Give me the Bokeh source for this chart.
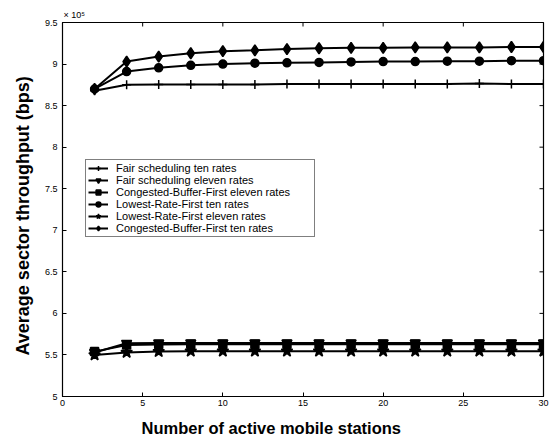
import math
from bokeh.plotting import figure
from bokeh.models import FixedTicker, Legend, LegendItem, Title
from bokeh.embed import file_html
from bokeh.resources import INLINE

# ---- data (throughput in units of 10^5 bps) ----
stations = [2, 4, 6, 8, 10, 12, 14, 16, 18, 20, 22, 24, 26, 28, 30]

fair_ten = [8.68, 8.75, 8.755, 8.755, 8.755, 8.755, 8.76, 8.76, 8.76, 8.76, 8.76, 8.76, 8.765, 8.76, 8.76]
fair_eleven = [5.53, 5.64, 5.645, 5.645, 5.645, 5.645, 5.645, 5.645, 5.645, 5.645, 5.645, 5.645, 5.645, 5.645, 5.645]
cbf_eleven = [5.54, 5.62, 5.625, 5.63, 5.63, 5.63, 5.63, 5.63, 5.63, 5.63, 5.63, 5.63, 5.63, 5.63, 5.63]
lrf_ten = [8.70, 8.91, 8.955, 8.985, 9.0, 9.01, 9.015, 9.02, 9.025, 9.03, 9.03, 9.035, 9.035, 9.04, 9.04]
lrf_eleven = [5.50, 5.53, 5.54, 5.545, 5.545, 5.545, 5.545, 5.545, 5.545, 5.545, 5.545, 5.545, 5.545, 5.545, 5.545]
cbf_ten = [8.70, 9.03, 9.09, 9.13, 9.155, 9.165, 9.18, 9.19, 9.195, 9.195, 9.20, 9.20, 9.20, 9.205, 9.205]

series_names = [
    "Fair scheduling ten rates",
    "Fair scheduling eleven rates",
    "Congested-Buffer-First eleven rates",
    "Lowest-Rate-First ten rates",
    "Lowest-Rate-First eleven rates",
    "Congested-Buffer-First ten rates",
]
series_values = [fair_ten, fair_eleven, cbf_eleven, lrf_ten, lrf_eleven, cbf_ten]
markers = ["cross", "inverted_triangle", "square", "circle", "star", "diamond"]
marker_sizes = [9, 10, 8, 8, 12, 11]

x_range = (0, 30)
y_range = (5, 9.5)
x_ticks = [0, 5, 10, 15, 20, 25, 30]
y_ticks = [5, 5.5, 6, 6.5, 7, 7.5, 8, 8.5, 9, 9.5]
y_tick_labels = ["5", "5.5", "6", "6.5", "7", "7.5", "8", "8.5", "9", "9.5"]

FONT = "Liberation Sans"

p = figure(width=550, height=445, x_range=x_range, y_range=y_range,
           output_backend="svg", toolbar_location=None,
           min_border_left=62, min_border_right=7, min_border_top=22, min_border_bottom=48)
p.xgrid.visible = False
p.ygrid.visible = False
p.outline_line_color = "black"
p.outline_line_width = 1.2
p.background_fill_color = "white"
p.border_fill_color = "white"

items = []
for name, vals, mk, ms in zip(series_names, series_values, markers, marker_sizes):
    r1 = p.line(stations, vals, line_color="black", line_width=2)
    r2 = p.scatter(stations, vals, marker=mk, size=ms, fill_color="black",
                   line_color="black", line_width=1.5)
    items.append(LegendItem(label=name, renderers=[r1, r2]))

# Inward ticks on the top and right edges of the box (half of each dash is clipped)
p.scatter(x_ticks, [y_range[1]] * len(x_ticks), marker="dash", size=8, angle=math.pi / 2,
          line_color="black", line_width=1)
p.scatter([x_range[1]] * len(y_ticks), y_ticks, marker="dash", size=8,
          line_color="black", line_width=1)

for ax in (p.xaxis[0], p.yaxis[0]):
    ax.major_tick_in = 4
    ax.major_tick_out = 0
    ax.minor_tick_line_color = None
    ax.axis_line_color = "black"
    ax.major_label_text_font = FONT
    ax.major_label_text_font_size = "9px"
    ax.major_label_text_color = "black"

p.xaxis.ticker = FixedTicker(ticks=x_ticks)
p.yaxis.ticker = FixedTicker(ticks=y_ticks)
p.yaxis.major_label_overrides = {t: l for t, l in zip(y_ticks, y_tick_labels)}
p.xaxis.major_label_standoff = 3
p.yaxis.major_label_standoff = 5

# Axis titles (as Titles so they can be offset like the reference)
xt = Title(text="Number of active mobile stations", align="left", offset=79,
           text_font=FONT, text_font_style="bold", text_font_size="16.5px",
           text_color="black", standoff=17)
p.add_layout(xt, "below")
yt = Title(text="Average sector throughput (bps)", align="left", offset=41,
           text_font=FONT, text_font_style="bold", text_font_size="18px",
           text_color="black", standoff=18)
p.add_layout(yt, "left")
mt = Title(text="× 10⁵", align="left", offset=1, text_font=FONT, text_font_style="normal",
           text_font_size="9px", text_color="black", standoff=5)
p.add_layout(mt, "above")

legend = Legend(items=items, location=(23, 159))
legend.label_text_font = FONT
legend.label_text_font_size = "11px"
legend.label_text_color = "black"
legend.glyph_height = 12
legend.glyph_width = 20
legend.label_height = 12
legend.label_width = 196
legend.label_standoff = 8
legend.spacing = 0
legend.padding = 2
legend.margin = 0
legend.border_line_color = "black"
legend.border_line_width = 1
legend.background_fill_alpha = 1
p.add_layout(legend, "center")

open("out.html", "w").write(file_html(p, INLINE))
